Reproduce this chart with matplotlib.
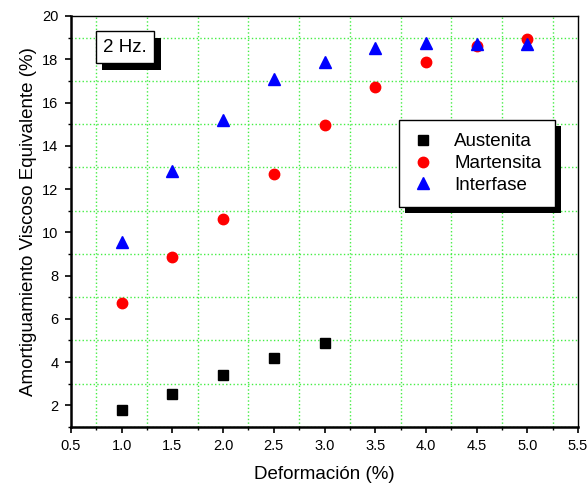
import matplotlib
matplotlib.use('Agg')
import matplotlib.pyplot as plt
import matplotlib.patheffects as pe
from matplotlib.ticker import MultipleLocator, FormatStrFormatter

plt.rcParams['font.family'] = ['Liberation Sans', 'DejaVu Sans']

# ---- data ----
x_aus = [1.0, 1.5, 2.0, 2.5, 3.0]
y_aus = [1.77, 2.54, 3.40, 4.17, 4.87]

x_mar = [1.0, 1.5, 2.0, 2.5, 3.0, 3.5, 4.0, 4.5, 5.0]
y_mar = [6.74, 8.86, 10.63, 12.68, 14.98, 16.74, 17.88, 18.62, 18.94]

x_int = [1.0, 1.5, 2.0, 2.5, 3.0, 3.5, 4.0, 4.5, 5.0]
y_int = [9.57, 12.85, 15.17, 17.08, 17.86, 18.51, 18.74, 18.71, 18.71]

labels = ['Austenita', 'Martensita', 'Interfase']

fig = plt.figure(figsize=(5.87, 4.87), dpi=100)
ax = fig.add_axes([71/587, 1 - 427/487, (578 - 71)/587, (427 - 16)/487])

ax.plot(x_aus, y_aus, 's', color='black', ms=6.5, label=labels[0], zorder=3)
ax.plot(x_mar, y_mar, 'o', color='red', ms=7.5, label=labels[1], zorder=3)
ax.plot(x_int, y_int, '^', color='blue', ms=8, label=labels[2], zorder=3)

ax.set_xlim(0.5, 5.5)
ax.set_ylim(1, 20)
ax.xaxis.set_major_locator(MultipleLocator(0.5))
ax.xaxis.set_minor_locator(MultipleLocator(0.25))
ax.xaxis.set_major_formatter(FormatStrFormatter('%.1f'))
ax.yaxis.set_major_locator(MultipleLocator(2))
ax.yaxis.set_minor_locator(MultipleLocator(1))

# grid only on minor ticks, like the original
ax.grid(True, which='minor', color='#44ee44', linestyle=':', linewidth=1.0)
ax.grid(False, which='major')
ax.set_axisbelow(True)

ax.tick_params(which='major', direction='out', length=4, width=1.2, labelsize=10.5, pad=5)
ax.tick_params(which='minor', direction='out', length=2.5, width=1.0)
ax.tick_params(top=False, right=False, which='both')

for side in ['left', 'bottom']:
    ax.spines[side].set_linewidth(1.8)
for side in ['top', 'right']:
    ax.spines[side].set_linewidth(1.0)

ax.set_xlabel('Deformación (%)', fontsize=13.5, labelpad=9)
ax.set_ylabel('Amortiguamiento Viscoso Equivalente (%)', fontsize=13.5, labelpad=4)

shadow = [pe.withSimplePatchShadow(offset=(4.5, -4.5), shadow_rgbFace='black', alpha=1.0)]

leg = ax.legend(loc='upper left', bbox_to_anchor=(399/587, 1 - 120/487),
                bbox_transform=fig.transFigure, fontsize=13.5, frameon=True,
                fancybox=False, borderpad=0.7, handletextpad=1.05,
                labelspacing=0.25, borderaxespad=0, handlelength=1.2,
                handleheight=0.6)
frame = leg.get_frame()
frame.set_edgecolor('black')
frame.set_linewidth(1.0)
frame.set_alpha(1)
frame.set_path_effects(shadow)

t = ax.text(0.5 + (125 - 71) / 101.4, 20 - (47.5 - 16) / 21.65, '2 Hz.', fontsize=13.5,
            ha='center', va='center',
            bbox=dict(boxstyle='square,pad=0.4', facecolor='white', edgecolor='black', lw=1.0))
t.get_bbox_patch().set_path_effects(shadow)

fig.savefig('out.png', dpi=100)
